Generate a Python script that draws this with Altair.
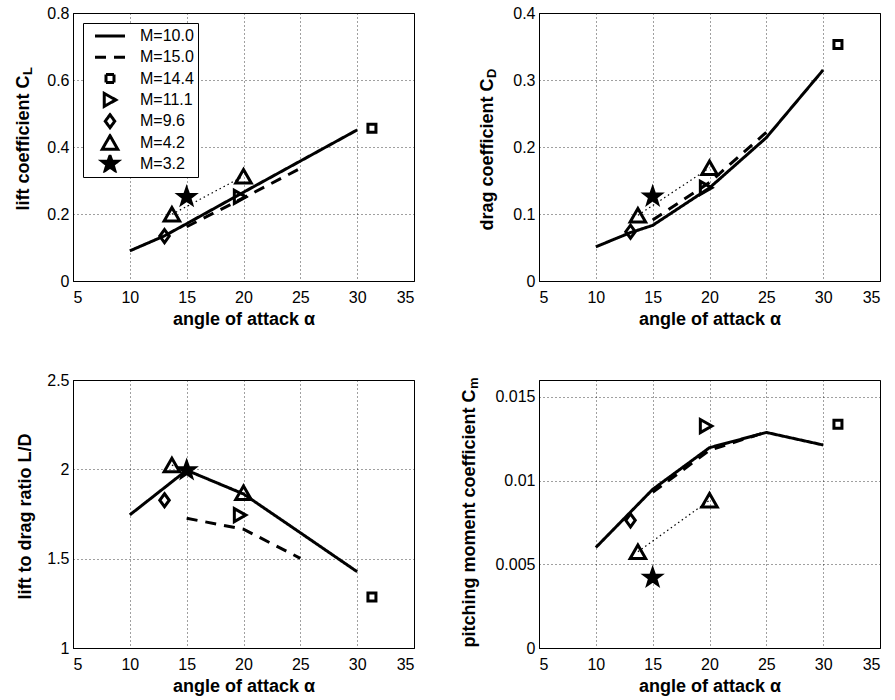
import altair as alt
import pandas as pd

FONT = "Liberation Sans"
SERIES = ["M=10.0", "M=15.0", "M=14.4", "M=11.1", "M=9.6", "M=4.2", "M=3.2"]
X_TICKS = [5, 10, 15, 20, 25, 30, 35]

# ---- computed curves, M=10.0 (solid) ----
alpha_m10_a = [10, 13, 15, 20, 25, 30]
cl_m10 = [0.090, 0.134, 0.171, 0.265, 0.358, 0.451]
cd_m10 = [0.051, 0.072, 0.083, 0.139, 0.214, 0.315]
alpha_m10_b = [10, 15, 20, 25, 30]
ld_m10 = [1.745, 1.995, 1.862, 1.645, 1.427]
cm_m10 = [0.0060, 0.00947, 0.01196, 0.01287, 0.01212]

# ---- computed curves, M=15.0 (dashed) ----
alpha_m15 = [15, 20, 25]
cl_m15 = [0.162, 0.248, 0.336]
cd_m15 = [0.091, 0.147, 0.222]
ld_m15 = [1.726, 1.665, 1.502]
cm_m15 = [0.0093, 0.0118, 0.0129]

# ---- experiments ----
alpha_m144 = [31.3]
cl_m144, cd_m144, ld_m144, cm_m144 = [0.456], [0.353], [1.285], [0.01336]
alpha_m111 = [19.7]
cl_m111, cd_m111, ld_m111, cm_m111 = [0.251], [0.139], [1.744], [0.01325]
alpha_m96 = [13.05]
cl_m96, cd_m96, ld_m96, cm_m96 = [0.134], [0.0736], [1.827], [0.00762]
alpha_m42 = [13.7, 20.0]
cl_m42, cd_m42, ld_m42, cm_m42 = [0.199, 0.313], [0.098, 0.169], [2.024, 1.869], [0.00575, 0.00882]
alpha_m32 = [15.0]
cl_m32, cd_m32, ld_m32, cm_m32 = [0.251], [0.126], [1.995], [0.0042]

# symbol paths (unit coordinates)
LINE = "M-3,0L3,0"
SQUARE = "M-0.8,-0.8L0.8,-0.8L0.8,0.8L-0.8,0.8Z"
TRI_RIGHT = "M1.15,0L-1.15,-1.3L-1.15,1.3Z"
DIAMOND = "M0,-1.3L0.95,0L0,1.3L-0.95,0Z"
TRI_UP = "M0,-1.35L1.55,1.35L-1.55,1.35Z"
STAR = ("M0,-1.65L0.388,-0.534L1.569,-0.51L0.628,0.204L0.97,1.335L0,0.66"
        "L-0.97,1.335L-0.628,0.204L-1.569,-0.51L-0.388,-0.534Z")
SHAPES = [LINE, LINE, SQUARE, TRI_RIGHT, DIAMOND, TRI_UP, STAR]
FILLS = ["transparent"] * 6 + ["black"]
STROKES = ["black"] * 7
DASHES = [[1, 0], [11, 8], [1, 0], [1, 0], [1, 0], [1, 0], [1, 0]]

W, H = 341, 268


def rows(series, xs, ys):
    return [{"series": series, "alpha": a, "value": v} for a, v in zip(xs, ys)]


def panel(line_data, exp_data, dotted_data, y_title, y_sub, y_domain, y_ticks,
          title_x, junction, show_legend):
    x_enc = alt.X("alpha:Q", scale=alt.Scale(domain=[5, 35], nice=False),
                  axis=alt.Axis(values=X_TICKS, format="~g", title="angle of attack α",
                                titleY=43, titleBaseline="alphabetic"))
    y_axis = alt.Axis(values=y_ticks, format="~g", title=y_title, titleAngle=270,
                      titleX=title_x, titleY=junction,
                      titleAlign="right" if y_sub else "center",
                      titleBaseline="middle")
    y_enc = alt.Y("value:Q", scale=alt.Scale(domain=y_domain, nice=False, zero=False),
                  axis=y_axis)
    if show_legend:
        leg = alt.Legend(title=None, orient="none", legendX=10, legendY=10,
                         labelFont=FONT, labelFontSize=16, labelColor="black",
                         strokeColor="black", fillColor="white", padding=4,
                         symbolSize=100, symbolStrokeWidth=3, symbolStrokeColor="black",
                         symbolOffset=15, labelOffset=22, rowPadding=3.3,
                         clipHeight=18)
    else:
        leg = None

    stroke_enc = alt.Stroke("series:N", scale=alt.Scale(domain=SERIES, range=STROKES),
                            legend=leg)
    lines = alt.Chart(pd.DataFrame(line_data)).mark_line(strokeWidth=3).encode(
        x=x_enc, y=y_enc, stroke=stroke_enc,
        strokeDash=alt.StrokeDash("series:N", scale=alt.Scale(domain=SERIES, range=DASHES),
                                  legend=leg))
    dotted = alt.Chart(pd.DataFrame(dotted_data)).mark_line(
        strokeWidth=1.2, strokeDash=[1.5, 3], color="black").encode(x=x_enc, y=y_enc)
    points = alt.Chart(pd.DataFrame(exp_data)).mark_point(
        filled=False, size=100, strokeWidth=3, opacity=1).encode(
        x=x_enc, y=y_enc, stroke=stroke_enc,
        shape=alt.Shape("series:N", scale=alt.Scale(domain=SERIES, range=SHAPES), legend=leg),
        fill=alt.Fill("series:N", scale=alt.Scale(domain=SERIES, range=FILLS), legend=leg))
    layers = [lines, dotted, points]
    if y_sub:
        sub = alt.Chart(pd.DataFrame({"t": [y_sub]})).mark_text(
            angle=270, align="left", baseline="middle", font=FONT, fontSize=13,
            fontWeight="bold", color="black").encode(
            x=alt.value(title_x + 5), y=alt.value(junction), text="t:N")
        layers.append(sub)
    return alt.layer(*layers).properties(width=W, height=H)


sets = {
    "cl": (cl_m10, cl_m15, cl_m144, cl_m111, cl_m96, cl_m42, cl_m32),
    "cd": (cd_m10, cd_m15, cd_m144, cd_m111, cd_m96, cd_m42, cd_m32),
    "ld": (ld_m10, ld_m15, ld_m144, ld_m111, ld_m96, ld_m42, ld_m32),
    "cm": (cm_m10, cm_m15, cm_m144, cm_m111, cm_m96, cm_m42, cm_m32),
}


def build(key):
    m10, m15, m144, m111, m96, m42, m32 = sets[key]
    a10 = alpha_m10_a if len(m10) == len(alpha_m10_a) else alpha_m10_b
    line_data = rows("M=10.0", a10, m10) + rows("M=15.0", alpha_m15, m15)
    exp_data = (rows("M=14.4", alpha_m144, m144) + rows("M=11.1", alpha_m111, m111)
                + rows("M=9.6", alpha_m96, m96) + rows("M=4.2", alpha_m42, m42)
                + rows("M=3.2", alpha_m32, m32))
    dotted_data = rows("M=4.2", alpha_m42, m42)
    return line_data, exp_data, dotted_data


p1 = panel(*build("cl"), "lift coefficient C", "L", [0, 0.8], [0, 0.2, 0.4, 0.6, 0.8],
           -50, 62, True)
p2 = panel(*build("cd"), "drag coefficient C", "D", [0, 0.4], [0, 0.1, 0.2, 0.3, 0.4],
           -52, 65, False)
p3 = panel(*build("ld"), "lift to drag ratio L/D", None, [1, 2.5], [1, 1.5, 2, 2.5],
           -48, 136, False)
p4 = panel(*build("cm"), "pitching moment coefficient C", "m", [0, 0.016],
           [0, 0.005, 0.01, 0.015], -70, 9, False)

chart = alt.concat(p1, p2, p3, p4, columns=2, spacing={"row": 99, "column": 125},
                   bounds="flush").resolve_scale(
    shape="independent", fill="independent", strokeDash="independent", stroke="independent"
).resolve_legend(
    shape="independent", fill="independent", strokeDash="independent", stroke="independent"
).properties(
    padding={"left": 13, "top": 4, "right": 5, "bottom": 5},
    background="white",
).configure_view(
    stroke="black", strokeWidth=1
).configure_axis(
    grid=True, gridColor="black", gridDash=[1, 3], gridOpacity=0.75, gridWidth=1,
    domainColor="black", domainWidth=1, ticks=False, tickSize=0,
    labelFont=FONT, labelFontSize=16, labelColor="black",
    titleFont=FONT, titleFontSize=18, titleFontWeight="bold", titleColor="black",
).configure_axisX(labelPadding=8).configure_axisY(labelPadding=4)

chart.save("out.html", embed_options={"renderer": "svg", "actions": False})
